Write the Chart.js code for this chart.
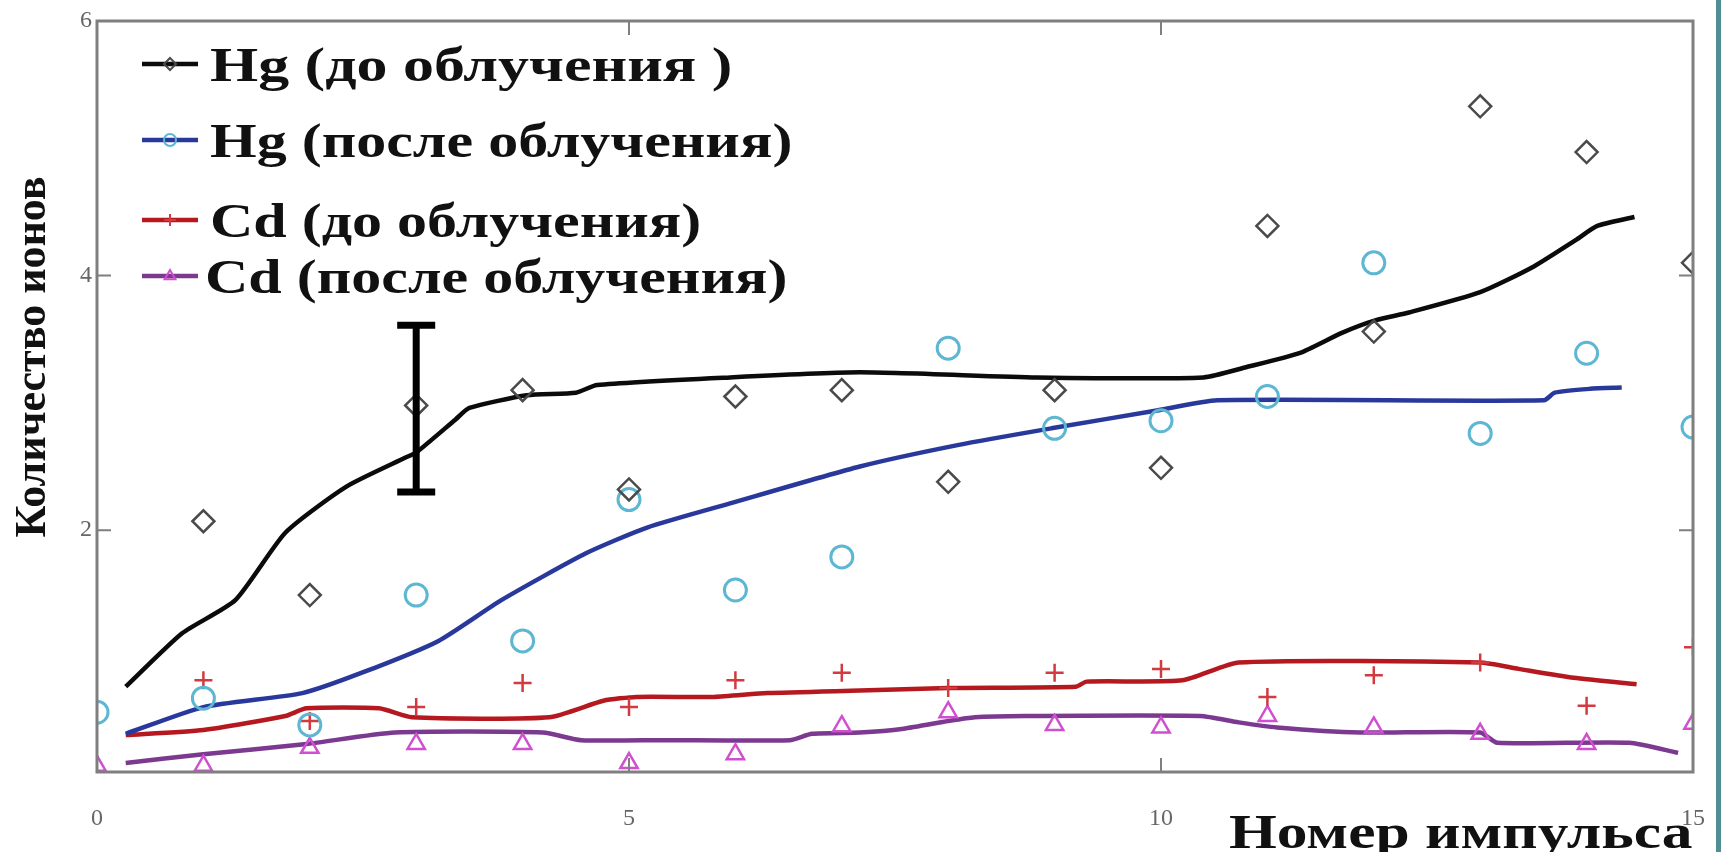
<!DOCTYPE html>
<html>
<head>
<meta charset="utf-8">
<title>Количество ионов по импульсам</title>
<script src="https://cdn.jsdelivr.net/npm/chart.js@4/dist/chart.umd.min.js"></script>
<style>
  html, body { margin: 0; padding: 0; background: #ffffff; }
  #wrap { position: relative; width: 1721px; height: 852px; overflow: hidden; background: #ffffff; }
  #chart { display: block; filter: blur(0.5px); }
  #edge { position: absolute; right: 0; top: 0; width: 5px; height: 852px; background: #4f8e93; }
</style>
</head>
<body>
<div id="wrap">
  <canvas id="chart" width="1721" height="852"></canvas>
  <div id="edge"></div>
</div>
<script>
// ---- data ----
const pulseNumbers = [0, 1, 2, 3, 4, 5, 6, 7, 8, 9, 10, 11, 12, 13, 14, 15];

// measured ion counts per pulse
const hgBefore = [null, 2.07, 1.49, 2.98, 3.10, 2.32, 3.05, 3.10, 2.38, 3.10, 2.49, 4.39, 3.56, 5.33, 4.97, 4.10];
const hgAfter  = [0.57, 0.68, 0.47, 1.49, 1.13, 2.24, 1.53, 1.79, 3.43, 2.80, 2.86, 3.05, 4.10, 2.76, 3.39, 2.81];
const cdBefore = [null, 0.82, 0.50, 0.61, 0.80, 0.61, 0.82, 0.88, 0.76, 0.88, 0.91, 0.69, 0.86, 0.96, 0.62, 1.08];
const cdAfter  = [0.15, 0.15, 0.29, 0.32, 0.32, 0.17, 0.24, 0.46, 0.57, 0.47, 0.45, 0.54, 0.45, 0.40, 0.32, 0.48];

// smoothed trend curves (pulse position, ion count)
const hgBeforeTrendX = [0.27, 0.8, 1.3, 1.77, 2.34, 2.9, 3.0, 3.37, 3.5, 4.04, 4.5, 4.7, 5.95, 7.17, 8.83, 10.4, 10.8, 11.3, 11.7, 12.02, 12.33, 13.0, 13.5, 13.9, 14.1, 14.45];
const hgBeforeTrendY = [0.77, 1.19, 1.45, 1.98, 2.34, 2.57, 2.61, 2.87, 2.96, 3.06, 3.08, 3.14, 3.20, 3.24, 3.20, 3.20, 3.28, 3.39, 3.55, 3.65, 3.71, 3.87, 4.07, 4.28, 4.39, 4.46];

const hgAfterTrendX = [0.27, 1.0, 1.93, 2.49, 3.21, 3.8, 4.6, 5.17, 5.95, 7.17, 8.1, 8.97, 9.96, 10.53, 13.6, 13.7, 14.03, 14.33];
const hgAfterTrendY = [0.40, 0.61, 0.72, 0.88, 1.13, 1.45, 1.82, 2.02, 2.21, 2.50, 2.67, 2.80, 2.94, 3.02, 3.02, 3.08, 3.11, 3.12];

const cdBeforeTrendX = [0.27, 1.0, 1.77, 1.97, 2.65, 2.96, 4.25, 4.76, 5.07, 5.8, 6.3, 7.17, 8.0, 9.2, 9.3, 10.2, 10.73, 13.0, 13.36, 13.88, 14.47];
const cdBeforeTrendY = [0.39, 0.43, 0.54, 0.60, 0.60, 0.53, 0.53, 0.66, 0.69, 0.69, 0.72, 0.74, 0.76, 0.77, 0.81, 0.82, 0.96, 0.96, 0.91, 0.84, 0.79];

const cdAfterTrendX = [0.27, 1.0, 1.97, 2.8, 4.19, 4.55, 5.33, 6.51, 6.72, 7.17, 7.58, 8.0, 8.25, 8.72, 10.37, 10.73, 11.09, 11.87, 13.0, 13.16, 14.4, 14.86];
const cdAfterTrendY = [0.17, 0.24, 0.32, 0.41, 0.41, 0.35, 0.35, 0.35, 0.40, 0.41, 0.44, 0.50, 0.53, 0.54, 0.54, 0.49, 0.45, 0.41, 0.41, 0.33, 0.33, 0.25];

// measurement uncertainty shown at one pulse
const errorBarPulse = 3;
const errorBarLow = 2.30;
const errorBarHigh = 3.61;

// axes
const xTicks = [0, 5, 10, 15];
const yTicks = [2, 4, 6];
const xMin = 0, xMax = 15;
const yMin = 0.1, yMax = 6;

const seriesLabels = ['Hg (до облучения )', 'Hg (после облучения)', 'Cd (до облучения)', 'Cd (после облучения)'];
const xTitle = 'Номер импульса';
const yTitle = 'Количество ионов';

// ---- styles ----
const SERIF = '"Liberation Serif", "DejaVu Serif", serif';
const series = [
  { label: seriesLabels[0], values: hgBefore, tx: hgBeforeTrendX, ty: hgBeforeTrendY,
    line: '#0b0b0b', marker: '#4a4a4a', style: 'rectRot', radius: 11, mw: 2.5, legendY: 64, textX: 210, sx: 1.29 },
  { label: seriesLabels[1], values: hgAfter, tx: hgAfterTrendX, ty: hgAfterTrendY,
    line: '#29389b', marker: '#5db7d3', style: 'circle', radius: 11, mw: 3, legendY: 140, textX: 210, sx: 1.25 },
  { label: seriesLabels[2], values: cdBefore, tx: cdBeforeTrendX, ty: cdBeforeTrendY,
    line: '#b5191f', marker: '#d23a40', style: 'cross', radius: 9, mw: 2.5, legendY: 220, textX: 210, sx: 1.25 },
  { label: seriesLabels[3], values: cdAfter, tx: cdAfterTrendX, ty: cdAfterTrendY,
    line: '#7b3a8f', marker: '#d04fd0', style: 'triangle', radius: 10, mw: 2.5, legendY: 276, textX: 205, sx: 1.25 }
];

const datasets = [];
series.forEach(s => {
  datasets.push({
    label: s.label,
    data: s.tx.map((x, i) => ({ x: x, y: s.ty[i] })),
    showLine: true,
    borderColor: s.line,
    borderWidth: 4.5,
    pointRadius: 0,
    tension: 0.2,
    clip: 0,
    order: 2
  });
});
series.forEach(s => {
  datasets.push({
    label: s.label + ' — точки',
    data: pulseNumbers.map((p, i) => ({ x: p, y: s.values[i] })).filter(d => d.y !== null),
    showLine: false,
    pointStyle: s.style,
    pointRadius: s.radius,
    pointBorderColor: s.marker,
    pointBackgroundColor: 'rgba(0,0,0,0)',
    pointBorderWidth: s.mw,
    clip: 0,
    order: 1
  });
});

function drawMarker(ctx, style, x, y, r) {
  ctx.beginPath();
  if (style === 'rectRot') {
    ctx.moveTo(x, y - r); ctx.lineTo(x + r, y); ctx.lineTo(x, y + r); ctx.lineTo(x - r, y); ctx.closePath();
  } else if (style === 'circle') {
    ctx.arc(x, y, r, 0, Math.PI * 2);
  } else if (style === 'cross') {
    ctx.moveTo(x - r, y); ctx.lineTo(x + r, y); ctx.moveTo(x, y - r); ctx.lineTo(x, y + r);
  } else if (style === 'triangle') {
    ctx.moveTo(x, y - r); ctx.lineTo(x + r * 0.9, y + r * 0.55); ctx.lineTo(x - r * 0.9, y + r * 0.55); ctx.closePath();
  }
  ctx.stroke();
}

function stretchedText(ctx, text, x, y, sx) {
  ctx.save();
  ctx.translate(x, y);
  ctx.scale(sx, 1);
  ctx.fillText(text, 0, 0);
  ctx.restore();
}

const decorations = {
  id: 'decorations',
  afterDatasetsDraw(chart) {
    const { ctx, scales: { x, y } } = chart;
    const ex = x.getPixelForValue(errorBarPulse);
    const top = y.getPixelForValue(errorBarHigh);
    const bot = y.getPixelForValue(errorBarLow);
    ctx.save();
    ctx.strokeStyle = '#000';
    ctx.lineWidth = 7;
    ctx.beginPath();
    ctx.moveTo(ex, top); ctx.lineTo(ex, bot);
    ctx.moveTo(ex - 19, top); ctx.lineTo(ex + 19, top);
    ctx.moveTo(ex - 19, bot); ctx.lineTo(ex + 19, bot);
    ctx.stroke();
    ctx.restore();
  },
  afterDraw(chart) {
    const { ctx, chartArea: a, scales: { x, y } } = chart;
    ctx.save();
    // plot frame
    ctx.strokeStyle = '#7f7f7f';
    ctx.lineWidth = 3;
    ctx.strokeRect(a.left, a.top, a.right - a.left, a.bottom - a.top);
    // inward tick marks
    ctx.lineWidth = 2;
    ctx.beginPath();
    xTicks.forEach(v => {
      if (v <= xMin || v >= xMax) return;
      const px = x.getPixelForValue(v);
      ctx.moveTo(px, a.top); ctx.lineTo(px, a.top + 14);
      ctx.moveTo(px, a.bottom); ctx.lineTo(px, a.bottom - 14);
    });
    yTicks.forEach(v => {
      if (v <= yMin || v >= yMax) return;
      const py = y.getPixelForValue(v);
      ctx.moveTo(a.left, py); ctx.lineTo(a.left + 14, py);
      ctx.moveTo(a.right, py); ctx.lineTo(a.right - 14, py);
    });
    ctx.stroke();

    // legend
    ctx.textBaseline = 'alphabetic';
    ctx.textAlign = 'left';
    ctx.fillStyle = '#111';
    ctx.font = 'bold 48px ' + SERIF;
    series.forEach(s => {
      const ly = s.legendY;
      ctx.strokeStyle = s.line;
      ctx.lineWidth = 4.5;
      ctx.beginPath();
      ctx.moveTo(142, ly); ctx.lineTo(198, ly);
      ctx.stroke();
      ctx.strokeStyle = s.marker;
      ctx.lineWidth = 2;
      drawMarker(ctx, s.style, 170, ly, 6);
      stretchedText(ctx, s.label, s.textX, ly + 17, s.sx);
    });

    // axis titles
    ctx.fillStyle = '#111';
    ctx.font = 'bold 48px ' + SERIF;
    stretchedText(ctx, xTitle, 1229, 848, 1.28);

    ctx.font = 'bold 44px ' + SERIF;
    ctx.save();
    ctx.translate(45, 357);
    ctx.rotate(-Math.PI / 2);
    ctx.textAlign = 'center';
    ctx.fillText(yTitle, 0, 0);
    ctx.restore();

    ctx.restore();
  }
};

new Chart(document.getElementById('chart'), {
  type: 'scatter',
  data: { datasets: datasets },
  options: {
    responsive: false,
    animation: false,
    events: [],
    layout: { padding: { top: 21, right: 28, left: 0, bottom: 0 } },
    plugins: {
      legend: { display: false },
      tooltip: { enabled: false },
      title: { display: false }
    },
    scales: {
      x: {
        type: 'linear',
        min: xMin, max: xMax,
        afterBuildTicks: sc => { sc.ticks = xTicks.map(v => ({ value: v })); },
        afterFit: sc => { sc.height = 80; sc.paddingLeft = 0; sc.paddingRight = 0; },
        grid: { display: false, drawTicks: false },
        border: { display: false },
        title: { display: false, text: xTitle },
        ticks: { padding: 32, color: '#666', font: { family: SERIF, size: 24 }, maxRotation: 0, autoSkip: false }
      },
      y: {
        type: 'linear',
        min: yMin, max: yMax,
        afterBuildTicks: sc => { sc.ticks = yTicks.map(v => ({ value: v })); },
        afterFit: sc => { sc.width = 97; sc.paddingTop = 0; sc.paddingBottom = 0; },
        grid: { display: false, drawTicks: false },
        border: { display: false },
        title: { display: false, text: yTitle },
        ticks: { padding: 5, color: '#666', font: { family: SERIF, size: 24 }, autoSkip: false }
      }
    }
  },
  plugins: [decorations]
});
</script>
</body>
</html>
